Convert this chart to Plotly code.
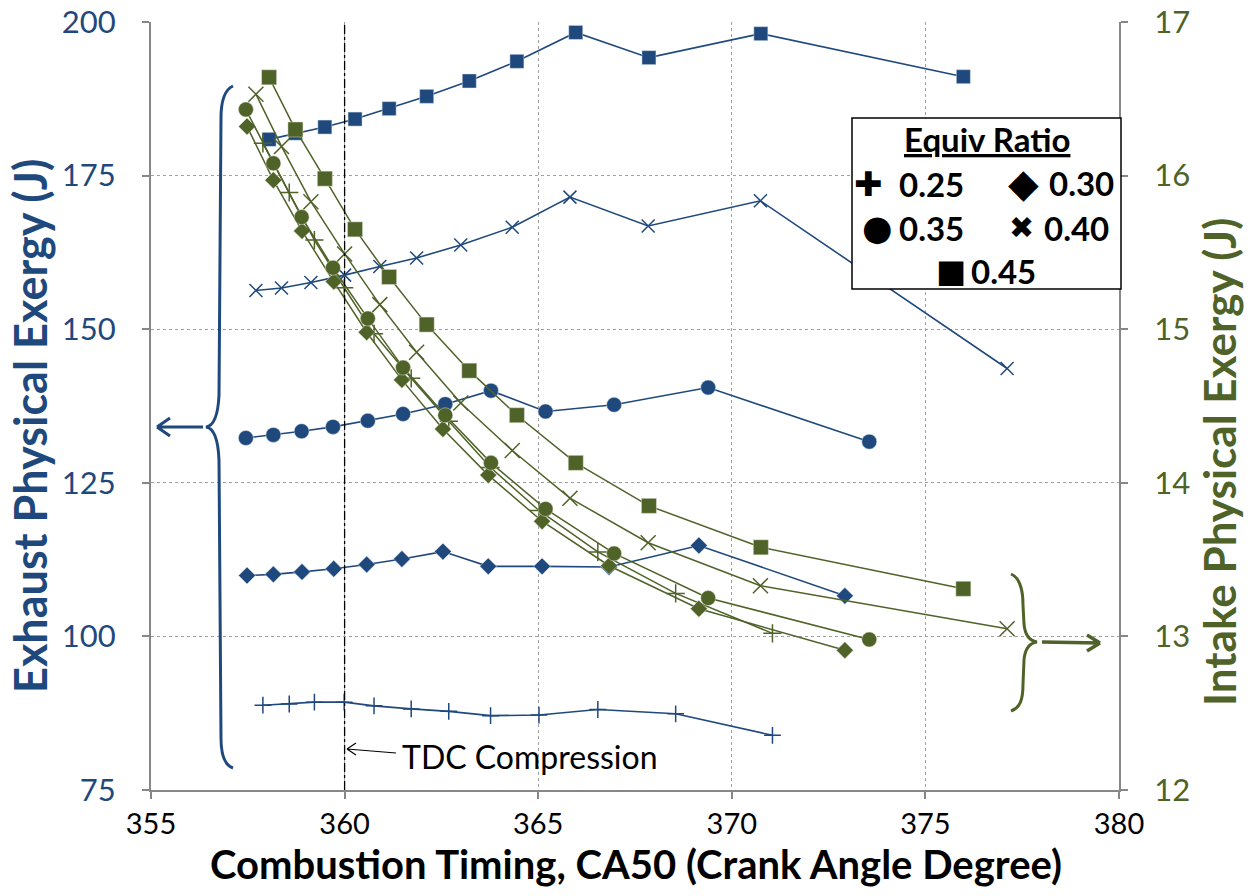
import plotly.graph_objects as go

# Combustion timing (CA50, crank angle degrees) for each equivalence ratio
ca50_025 = [357.89, 358.57, 359.22, 359.99, 360.76, 361.72, 362.69, 363.77, 365.02, 366.54, 368.55, 371.05]
ca50_030 = [357.48, 358.16, 358.90, 359.72, 360.57, 361.48, 362.54, 363.71, 365.10, 366.83, 369.15, 372.92]
ca50_035 = [357.45, 358.16, 358.89, 359.70, 360.60, 361.51, 362.60, 363.78, 365.19, 366.96, 369.39, 373.55]
ca50_040 = [357.71, 358.37, 359.13, 360.00, 360.91, 361.86, 363.00, 364.33, 365.82, 367.84, 370.74, 377.11]
ca50_045 = [358.05, 358.73, 359.49, 360.27, 361.15, 362.12, 363.22, 364.45, 365.97, 367.86, 370.75, 375.98]

# Exhaust physical exergy (J), left axis
exh_025 = [88.8, 89.0, 89.3, 89.3, 88.7, 88.2, 87.8, 87.1, 87.2, 88.1, 87.4, 83.9]
exh_030 = [109.9, 110.1, 110.5, 111.0, 111.7, 112.6, 113.8, 111.4, 111.4, 111.3, 114.8, 106.6]
exh_035 = [132.3, 132.8, 133.4, 134.1, 135.1, 136.2, 137.8, 140.0, 136.6, 137.7, 140.5, 131.7]
exh_040 = [156.3, 156.7, 157.6, 158.8, 160.2, 161.6, 163.7, 166.6, 171.5, 166.8, 170.9, 143.6]
exh_045 = [180.9, 181.9, 182.9, 184.2, 185.9, 187.9, 190.4, 193.6, 198.3, 194.2, 198.1, 191.1]

# Intake physical exergy (J), right axis
int_025 = [16.21, 15.89, 15.58, 15.27, 14.97, 14.68, 14.40, 14.10, 13.82, 13.55, 13.28, 13.02]
int_030 = [16.32, 15.97, 15.64, 15.31, 14.98, 14.67, 14.35, 14.05, 13.75, 13.46, 13.18, 12.91]
int_035 = [16.43, 16.08, 15.73, 15.40, 15.07, 14.75, 14.44, 14.13, 13.83, 13.54, 13.25, 12.98]
int_040 = [16.53, 16.19, 15.83, 15.49, 15.16, 14.85, 14.52, 14.21, 13.90, 13.61, 13.33, 13.05]
int_045 = [16.64, 16.30, 15.98, 15.65, 15.34, 15.03, 14.73, 14.44, 14.13, 13.85, 13.58, 13.31]

phi_labels = ["0.25", "0.30", "0.35", "0.40", "0.45"]
x_ticks = [355, 360, 365, 370, 375, 380]
y_left_ticks = [75, 100, 125, 150, 175, 200]
y_right_ticks = [12, 13, 14, 15, 16, 17]
tdc_angle = 360

BLUE = "#1F497D"
GREEN = "#4F6228"
GRID = "#a0a0a0"
AXIS = "#878787"
FONT = "Lato, 'Open Sans', sans-serif"

W, H = 1252, 896
L, R, T, B = 151, 133, 22, 106
PW, PH = W - L - R, H - T - B


def px(x):
    return (x - L) / PW


def py(y):
    return (H - B - y) / PH


def path(cmds):
    # cmds: list of (letter, [pixel points]) turned into a paper-space path
    out = []
    for c, pts in cmds:
        seg = " ".join(f"{px(a):.5f},{py(b):.5f}" for a, b in pts)
        out.append(f"{c}{seg}")
    return " ".join(out)


def arrow(x0, y0, x1, y1, hx, hy):
    # straight shaft from (x0, y0) to tip (x1, y1) with an open chevron head
    return path([
        ("M", [(x0, y0)]), ("L", [(x1, y1)]),
        ("M", [(x1 + hx, y1 - hy)]), ("L", [(x1, y1)]),
        ("M", [(x1 + hx, y1 + hy)]), ("L", [(x1, y1)]),
    ])


series = [
    (ca50_025, exh_025, int_025, "cross-thin-open", 12, 13),
    (ca50_030, exh_030, int_030, "diamond", 13, 13),
    (ca50_035, exh_035, int_035, "circle", 15, 15),
    (ca50_040, exh_040, int_040, "x-thin-open", 13, 15),
    (ca50_045, exh_045, int_045, "square", 14, 15),
]

fig = go.Figure()

for (xs, ex, ia, sym, s_blue, s_green), lab in zip(series, phi_labels):
    thin = "thin" in sym
    fig.add_trace(go.Scatter(
        x=xs, y=ex, mode="lines+markers", name=f"Exhaust {lab}",
        line=dict(color=BLUE, width=1.6),
        marker=dict(symbol=sym, size=s_blue, color=BLUE,
                    line=dict(color=BLUE if thin else "rgba(220,230,240,0.8)", width=1.5 if thin else 0.6)),
        showlegend=False, yaxis="y",
    ))
for (xs, ex, ia, sym, s_blue, s_green), lab in zip(series, phi_labels):
    thin = "thin" in sym
    fig.add_trace(go.Scatter(
        x=xs, y=ia, mode="lines+markers", name=f"Intake {lab}",
        line=dict(color=GREEN, width=1.5),
        marker=dict(symbol=sym, size=s_green, color=GREEN,
                    line=dict(color=GREEN if thin else "rgba(225,230,215,0.8)", width=1.5 if thin else 0.6)),
        showlegend=False, yaxis="y2",
    ))

shapes = []
# TDC reference line
shapes.append(dict(type="line", xref="x", yref="y", x0=tdc_angle, x1=tdc_angle,
                   y0=y_left_ticks[0], y1=y_left_ticks[-1],
                   line=dict(color="black", width=1.3, dash="dashdot"), layer="above"))

# Curly brace grouping the exhaust curves, with arrow to the left axis
shapes.append(dict(type="path", xref="paper", yref="paper", layer="above",
                   line=dict(color=BLUE, width=3),
                   path=path([
                       ("M", [(233, 86)]),
                       ("C", [(224, 90), (221, 102), (221, 118)]),
                       ("L", [(219, 395)]),
                       ("C", [(218, 418), (213, 426), (206, 427)]),
                       ("C", [(213, 428), (218, 436), (219, 460)]),
                       ("L", [(221, 738)]),
                       ("C", [(221, 754), (224, 765), (233, 768)]),
                   ])))
shapes.append(dict(type="path", xref="paper", yref="paper", layer="above",
                   line=dict(color=BLUE, width=3),
                   path=arrow(203, 427, 157, 427, 13, 9)))

# Curly brace grouping the intake curves, with arrow to the right axis
shapes.append(dict(type="path", xref="paper", yref="paper", layer="above",
                   line=dict(color=GREEN, width=3),
                   path=path([
                       ("M", [(1011, 574)]),
                       ("C", [(1020, 578), (1023, 590), (1023, 605)]),
                       ("L", [(1024, 624)]),
                       ("C", [(1025, 636), (1030, 641), (1037, 642)]),
                       ("C", [(1030, 643), (1025, 648), (1024, 660)]),
                       ("L", [(1023, 684)]),
                       ("C", [(1023, 700), (1020, 708), (1011, 711)]),
                   ])))
shapes.append(dict(type="path", xref="paper", yref="paper", layer="above",
                   line=dict(color=GREEN, width=3.5),
                   path=arrow(1042, 642, 1100, 643, -13, 8)))

# Arrow pointing from the TDC label to the reference line
shapes.append(dict(type="path", xref="paper", yref="paper", layer="above",
                   line=dict(color="black", width=1.2),
                   path=arrow(396, 753, 347, 749, 9, 6)))

# Legend frame
shapes.append(dict(type="rect", xref="paper", yref="paper", layer="above",
                   x0=px(852), x1=px(1121), y0=py(289), y1=py(118),
                   fillcolor="white", line=dict(color="black", width=1.5)))

annotations = []


def text(x, y, s, size, color="black", bold=False, angle=0, xanchor="center", family=FONT):
    annotations.append(dict(
        x=px(x), y=py(y), xref="paper", yref="paper", showarrow=False,
        text=f"<b>{s}</b>" if bold else s, textangle=angle,
        xanchor=xanchor, yanchor="middle",
        font=dict(family=family, size=size, color=color)))


# Axis titles
text(30, 426, "Exhaust Physical Exergy (J)", 45, BLUE, bold=True, angle=-90)
text(1219, 462, "Intake Physical Exergy (J)", 44, GREEN, bold=True, angle=-90)
text(636, 864, "Combustion Timing, CA50 (Crank Angle Degree)", 40, "black", bold=True)

# TDC label
text(400, 756, "TDC Compression", 32, "black", xanchor="left")

# Legend content
SYM = "'DejaVu Sans', sans-serif"
text(987, 139, "<u>Equiv Ratio</u>", 33, bold=True)
legend_items = [
    ("\u271A", 868, 184, 34, phi_labels[0], 897),
    ("\u25C6", 1023, 183, 40, phi_labels[1], 1047),
    ("\u25CF", 877, 228, 35, phi_labels[2], 897),
    ("\u2716", 1021, 228, 30, phi_labels[3], 1042),
    ("\u25A0", 951, 271, 32, phi_labels[4], 969),
]
for sym, sx, sy, ssize, lab, lx in legend_items:
    text(sx, sy, sym, ssize, family=SYM)
    text(lx, sy, lab, 33, bold=True, xanchor="left")

axis_common = dict(
    showline=True, linecolor=AXIS, linewidth=2,
    ticks="outside", ticklen=7, tickcolor=AXIS, tickwidth=1.5,
    zeroline=False, automargin=False,
)

fig.update_layout(
    width=W, height=H,
    margin=dict(l=L, r=R, t=T, b=B, autoexpand=False),
    paper_bgcolor="white", plot_bgcolor="white",
    showlegend=False,
    font=dict(family=FONT),
    xaxis=dict(
        range=[x_ticks[0], x_ticks[-1]], tickvals=x_ticks,
        showgrid=True, gridcolor=GRID, griddash="dot", gridwidth=1,
        tickfont=dict(size=29, color="black", family=FONT),
        **axis_common,
    ),
    yaxis=dict(
        range=[y_left_ticks[0], y_left_ticks[-1]], tickvals=y_left_ticks,
        showgrid=True, gridcolor=GRID, griddash="dot", gridwidth=1,
        tickfont=dict(size=31, color=BLUE, family=FONT),
        ticklabelstandoff=20,
        **axis_common,
    ),
    yaxis2=dict(
        range=[y_right_ticks[0], y_right_ticks[-1]], tickvals=y_right_ticks,
        overlaying="y", side="right", showgrid=False,
        tickfont=dict(size=31, color=GREEN, family=FONT),
        ticklabelstandoff=20,
        **axis_common,
    ),
    shapes=shapes,
    annotations=annotations,
)

fig.write_html("out.html")
